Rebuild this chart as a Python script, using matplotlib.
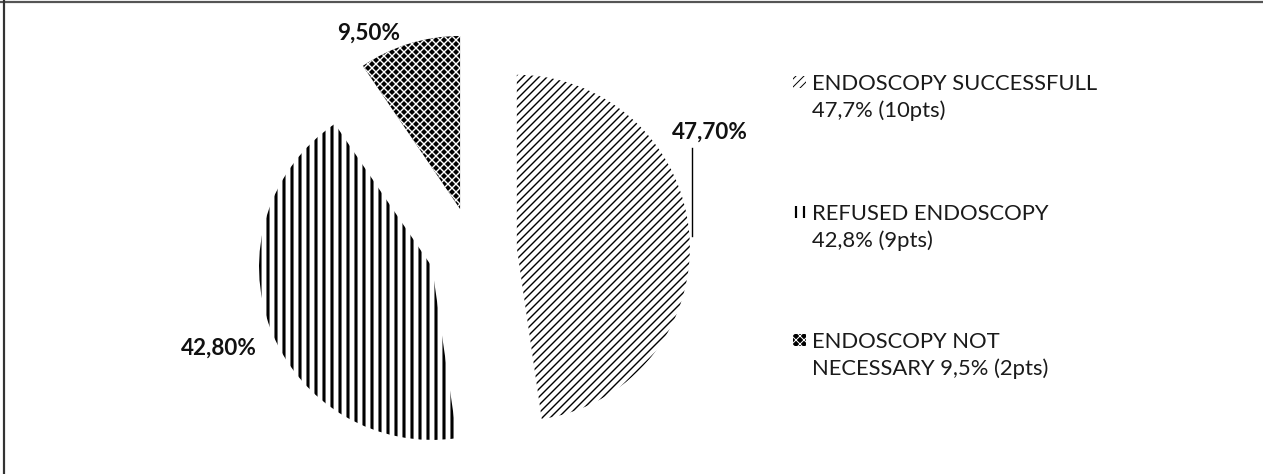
import numpy as np
import matplotlib
matplotlib.use('Agg')
import matplotlib.pyplot as plt
from matplotlib.patches import Rectangle
from matplotlib.lines import Line2D

# data
values = [47.7, 42.8, 9.5]
pct_labels = ['47,70%', '42,80%', '9,50%']
legend_labels = ['ENDOSCOPY SUCCESSFULL\n47,7% (10pts)',
                 'REFUSED ENDOSCOPY\n42,8% (9pts)',
                 'ENDOSCOPY NOT\nNECESSARY 9,5% (2pts)']

# styles per slice
hatches = ['//', '|', 'xx']
faces = ['white', 'white', 'black']
hatch_cols = ['black', 'black', 'white']
hatch_px = [1.4, 3.1, 1.4]   # hatch line widths in pixels

W, H, DPI = 1263, 474, 48   # low dpi -> hatch spacing close to the original
PT = 72 / DPI                # points per pixel
plt.rcParams['font.family'] = ['Lato', 'DejaVu Sans']

def px(x, y):
    return x / W, 1 - y / H

fig = plt.figure(figsize=(W / DPI, H / DPI), dpi=DPI)
ax = fig.add_axes([0, 0, 1, 1])

r_px = 173.0
cx, cy = 473, 251
wedges, _ = ax.pie(values, startangle=90, counterclock=False,
                   explode=[0.254] * 3, colors=faces,
                   wedgeprops=dict(linewidth=0))
for w, h, ec, lw in zip(wedges, hatches, hatch_cols, hatch_px):
    w.set_hatch(h)
    w.set_edgecolor(ec)
    if hasattr(w, 'set_hatch_linewidth'):
        w.set_hatch_linewidth(lw * PT)

ax.set_aspect('auto')
ax.set_xlim(-cx / r_px, (W - cx) / r_px)
ax.set_ylim(-(H - cy) / r_px, cy / r_px)
ax.axis('off')

# percentage labels
lab_pos = [(710, 132), (219, 348), (369, 33)]
for (x, y), t in zip(lab_pos, pct_labels):
    fig.text(*px(x, y), t, ha='center', va='center', fontsize=22.5 * PT,
             fontweight='bold', color='#111111')
# leader line for the 47,70% label
fig.add_artist(Line2D([px(692, 0)[0]] * 2, [px(0, 148)[1], px(0, 236)[1]],
                      color='black', lw=1.4 * PT))

# legend drawn by hand: small hatched swatch + two-line text
leg_top = [77, 207, 335]
for y, lab, h, fc, ec, lw in zip(leg_top, legend_labels, hatches, faces, hatch_cols, hatch_px):
    x0, y0 = px(793, y + 11)
    sw = Rectangle((x0, y0), 13 / W, 12 / H, transform=fig.transFigure,
                   facecolor=fc, edgecolor=ec, hatch=h, linewidth=0)
    if hasattr(sw, 'set_hatch_linewidth'):
        sw.set_hatch_linewidth(lw * 0.7 * PT)
    fig.add_artist(sw)
    fig.text(*px(812, y - 3), lab, ha='left', va='top', fontsize=22 * PT,
             linespacing=1.4, color='#1a1a1a')

# frame lines (top and left only visible in the original crop)
fig.add_artist(Line2D([0, 1], [px(0, 2)[1]] * 2, color='#555555', lw=2.2 * PT))
fig.add_artist(Line2D([px(4, 0)[0]] * 2, [0, 1], color='#333333', lw=2.2 * PT))

fig.savefig('out.png', dpi=DPI)
